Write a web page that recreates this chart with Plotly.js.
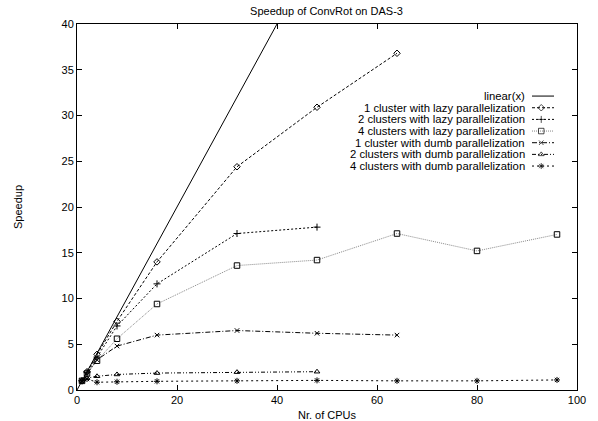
<!DOCTYPE html>
<html>
<head>
<meta charset="utf-8">
<script src="https://cdn.plot.ly/plotly-3.0.1.min.js"></script>
<style>html,body{margin:0;padding:0;background:#fff;}#chart{width:598px;height:421px;}</style>
</head>
<body>
<div id="chart"></div>
<script>
// ---- data ----
const linearX = [0, 40];
const linearY = [0, 40];

const cpus8 = [1, 2, 4, 8, 16, 32, 48, 64];
const cpus7 = [1, 2, 4, 8, 16, 32, 48];
const cpus10 = [1, 2, 4, 8, 16, 32, 48, 64, 80, 96];

const lazy1 = [1.0, 2.0, 3.9, 7.5, 14.0, 24.4, 30.9, 36.8];
const lazy2 = [1.0, 1.9, 3.6, 7.0, 11.6, 17.1, 17.8];
const lazy4 = [1.0, 1.8, 3.2, 5.6, 9.4, 13.6, 14.2, 17.1, 15.2, 17.0];
const dumb1 = [1.0, 1.8, 3.3, 4.8, 6.0, 6.5, 6.2, 6.0];
const dumb2 = [1.0, 1.3, 1.5, 1.7, 1.85, 1.95, 2.0];
const dumb4 = [1.0, 1.2, 0.85, 0.9, 0.95, 1.0, 1.05, 1.0, 1.0, 1.1];

const seriesNames = [
  "linear(x)",
  "1 cluster with lazy parallelization",
  "2 clusters with lazy parallelization",
  "4 clusters with lazy parallelization",
  "1 cluster with dumb parallelization",
  "2 clusters with dumb parallelization",
  "4 clusters with dumb parallelization"
];

const xTicks = [0, 20, 40, 60, 80, 100];
const yTicks = [0, 5, 10, 15, 20, 25, 30, 35, 40];

// ---- styles ----
const styles = [
  {color: "#000", dash: "solid", symbol: null, size: 0},
  {color: "#000", dash: "3px,2px", symbol: "diamond-open", size: 5},
  {color: "#000", dash: "2px,2px", symbol: "cross-thin-open", size: 5},
  {color: "#888", dash: "1px,1px", symbol: "square-open", size: 5.5},
  {color: "#000", dash: "5px,2px,1px,2px", symbol: "x-thin-open", size: 4.5},
  {color: "#000", dash: "4px,2px,1px,2px,1px,2px", symbol: "triangle-up-open", size: 5},
  {color: "#000", dash: "2px,3px", symbol: "asterisk-open", size: 5}
];
const dataX = [linearX, cpus8, cpus7, cpus10, cpus8, cpus7, cpus10];
const dataY = [linearY, lazy1, lazy2, lazy4, dumb1, dumb2, dumb4];

const traces = [];
for (let i = 0; i < seriesNames.length; i++) {
  const s = styles[i];
  const t = {
    x: dataX[i], y: dataY[i], name: seriesNames[i], type: "scatter",
    mode: s.symbol ? "lines+markers" : "lines",
    line: {color: s.color, width: 1, dash: s.dash},
    showlegend: false, cliponaxis: true, hoverinfo: "skip"
  };
  if (s.symbol) t.marker = {symbol: s.symbol, size: s.size, color: "#000", line: {color: "#000", width: 1}};
  traces.push(t);
}
// custom legend samples (line with marker in middle) on a helper axis
for (let i = 0; i < seriesNames.length; i++) {
  const s = styles[i];
  const t = {
    x: [0, 0.42, 1], y: [i, i, i], xaxis: "x2", yaxis: "y2", type: "scatter",
    mode: s.symbol ? "lines+markers" : "lines",
    line: {color: s.color, width: 1, dash: s.dash},
    showlegend: false, hoverinfo: "skip"
  };
  if (s.symbol) t.marker = {symbol: s.symbol, size: [0, s.size, 0], color: "#000", line: {color: "#000", width: 1}};
  traces.push(t);
}

const font = {family: "Liberation Sans, Arial, sans-serif", size: 11, color: "#000"};
const legendFont = {family: "Liberation Sans, Arial, sans-serif", size: 11.3, color: "#000"};
const annotations = seriesNames.map((n, i) => ({
  text: n, xref: "paper", yref: "y2", x: 0.900, y: i, xanchor: "right", yanchor: "middle",
  showarrow: false, font: legendFont
}));

const layout = {
  width: 598, height: 421,
  margin: {l: 77, r: 21, t: 24, b: 31},
  paper_bgcolor: "#fff", plot_bgcolor: "#fff",
  showlegend: false,
  font: font,
  title: {text: "Speedup of ConvRot on DAS-3", x: 0.546, xanchor: "center", y: 0.974, yanchor: "middle", font: font},
  xaxis: {
    range: [0, 100], tickvals: xTicks, ticktext: xTicks.map(String),
    ticks: "inside", ticklen: 5, tickcolor: "#000", tickwidth: 1,
    showline: true, linecolor: "#000", linewidth: 1, mirror: "ticks",
    showgrid: false, zeroline: false, tickfont: font,
    title: {text: "Nr. of CPUs", font: font, standoff: 7}
  },
  yaxis: {
    range: [0, 40], tickvals: yTicks, ticktext: yTicks.map(String),
    ticks: "inside", ticklen: 5, tickcolor: "#000", tickwidth: 1,
    showline: true, linecolor: "#000", linewidth: 1, mirror: "ticks",
    showgrid: false, zeroline: false, tickfont: font,
    title: {text: "Speedup", font: font, standoff: 36}
  },
  xaxis2: {domain: [0.910, 0.954], range: [0, 1], visible: false, anchor: "y2", fixedrange: true},
  yaxis2: {domain: [0.596, 0.819], range: [seriesNames.length - 0.5, -0.5], visible: false, anchor: "x2", fixedrange: true},
  annotations: annotations
};

Plotly.newPlot("chart", traces, layout, {staticPlot: true, displayModeBar: false});
</script>
</body>
</html>
